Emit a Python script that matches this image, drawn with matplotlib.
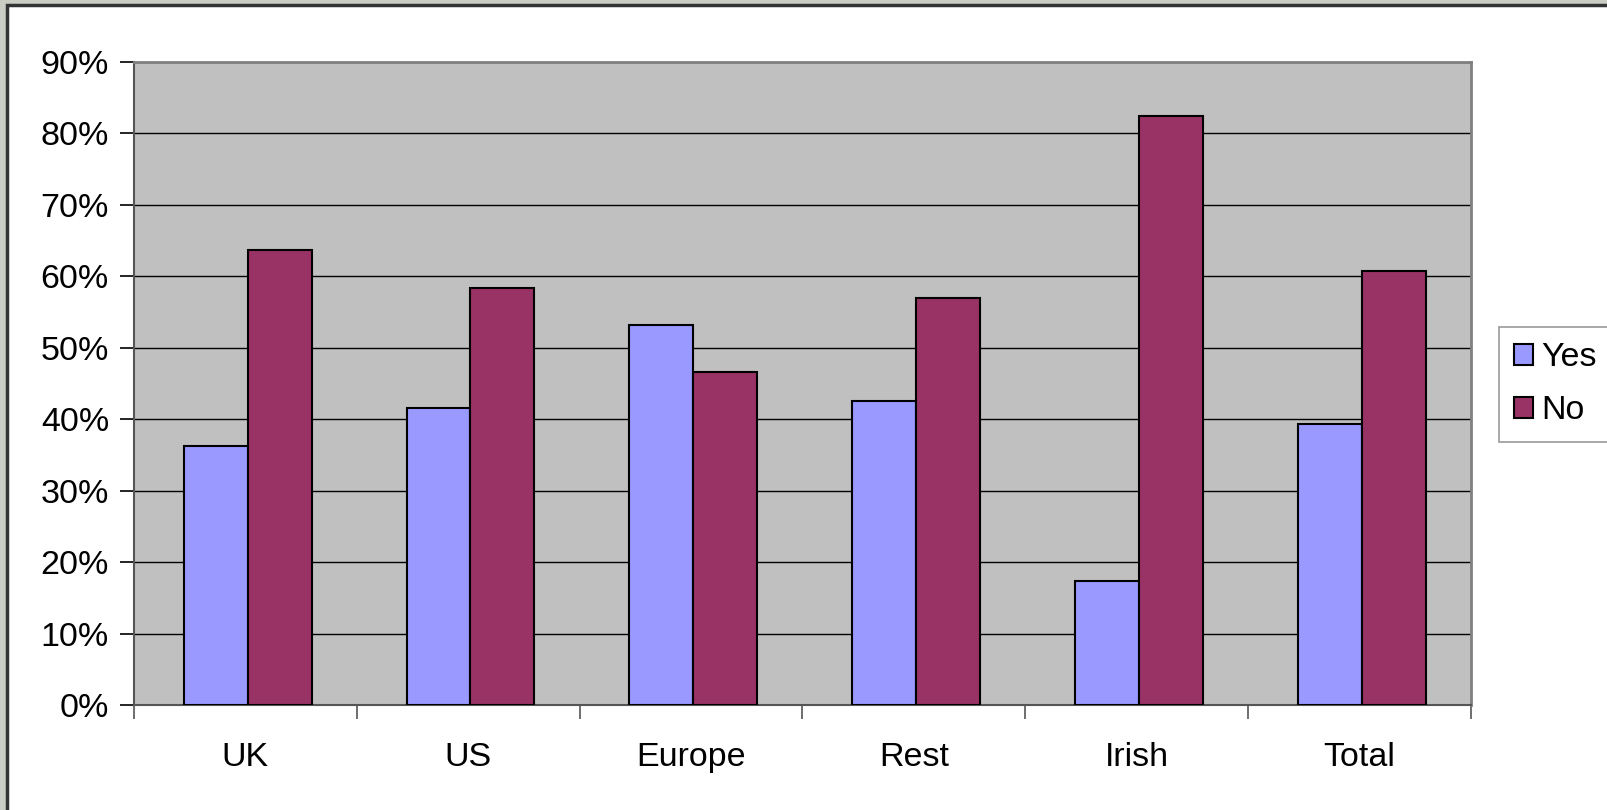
import matplotlib.pyplot as plt
from matplotlib.patches import Rectangle
from matplotlib.ticker import FuncFormatter, MultipleLocator
import numpy as np

categories = ['UK', 'US', 'Europe', 'Rest', 'Irish', 'Total']
yes_pct = [36.3, 41.6, 53.2, 42.6, 17.3, 39.3]
no_pct = [63.7, 58.4, 46.6, 57.0, 82.5, 60.7]

plt.rcParams['font.family'] = ['Liberation Sans', 'DejaVu Sans']

W, H = 1607, 810
fig = plt.figure(figsize=(W / 100, H / 100), dpi=100)
fig.patch.set_facecolor('#c9cdc3')

# white chart panel sitting on the slide background
panel = Rectangle((7 / W, -0.1), 1.1, 1 - 5 / H + 0.1, transform=fig.transFigure,
                  facecolor='white', edgecolor='#333333', linewidth=2.5, zorder=-5)
fig.patches.append(panel)

ax = fig.add_axes([134 / W, 1 - 705 / H, (1471 - 134) / W, (705 - 62) / H])
ax.set_facecolor('#c0c0c0')

x = np.arange(len(categories))
bw = 0.287
ax.bar(x - bw / 2 + 0.01, yes_pct, bw, color='#9999ff', edgecolor='black', linewidth=1.5,
       label='Yes', zorder=3)
ax.bar(x + bw / 2 + 0.01, no_pct, bw, color='#993366', edgecolor='black', linewidth=1.5,
       label='No', zorder=3)

ax.set_ylim(0, 90)
ax.set_xlim(-0.5, len(categories) - 0.5)
ax.yaxis.set_major_locator(MultipleLocator(10))
ax.yaxis.set_major_formatter(FuncFormatter(lambda v, p: f'{v:.0f}%'))
ax.yaxis.grid(True, color='black', linewidth=1, zorder=1)
ax.set_axisbelow(True)

# x ticks sit between categories, labels in the middle
ax.set_xticks(np.arange(-0.5, len(categories), 1))
ax.set_xticklabels([])
ax.set_xticks(x, minor=True)
ax.set_xticklabels(categories, minor=True, va='baseline')
ax.tick_params(axis='x', which='minor', length=0, pad=44, labelsize=24.5)
ax.tick_params(axis='x', which='major', length=10, width=1.2, color='#555555')
ax.tick_params(axis='y', length=10, width=1.2, labelsize=24.5, pad=8)

for side in ['top', 'right']:
    ax.spines[side].set_color('#808080')
    ax.spines[side].set_linewidth(2)
ax.spines['left'].set_color('#555555')
ax.spines['bottom'].set_color('#555555')
ax.spines['left'].set_linewidth(1.5)
ax.spines['bottom'].set_linewidth(1.5)

leg = fig.legend(loc='upper left', bbox_to_anchor=(1499 / W, 1 - 327 / H),
                 fontsize=24.5, frameon=True, fancybox=False, handlelength=0.55,
                 handleheight=0.55, handletextpad=0.25, borderpad=0.45,
                 labelspacing=0.65, borderaxespad=0)
leg.get_frame().set_edgecolor('#808080')
leg.get_frame().set_linewidth(1.2)
leg.set_zorder(5)

fig.savefig('out.png', dpi=100, facecolor=fig.get_facecolor())
